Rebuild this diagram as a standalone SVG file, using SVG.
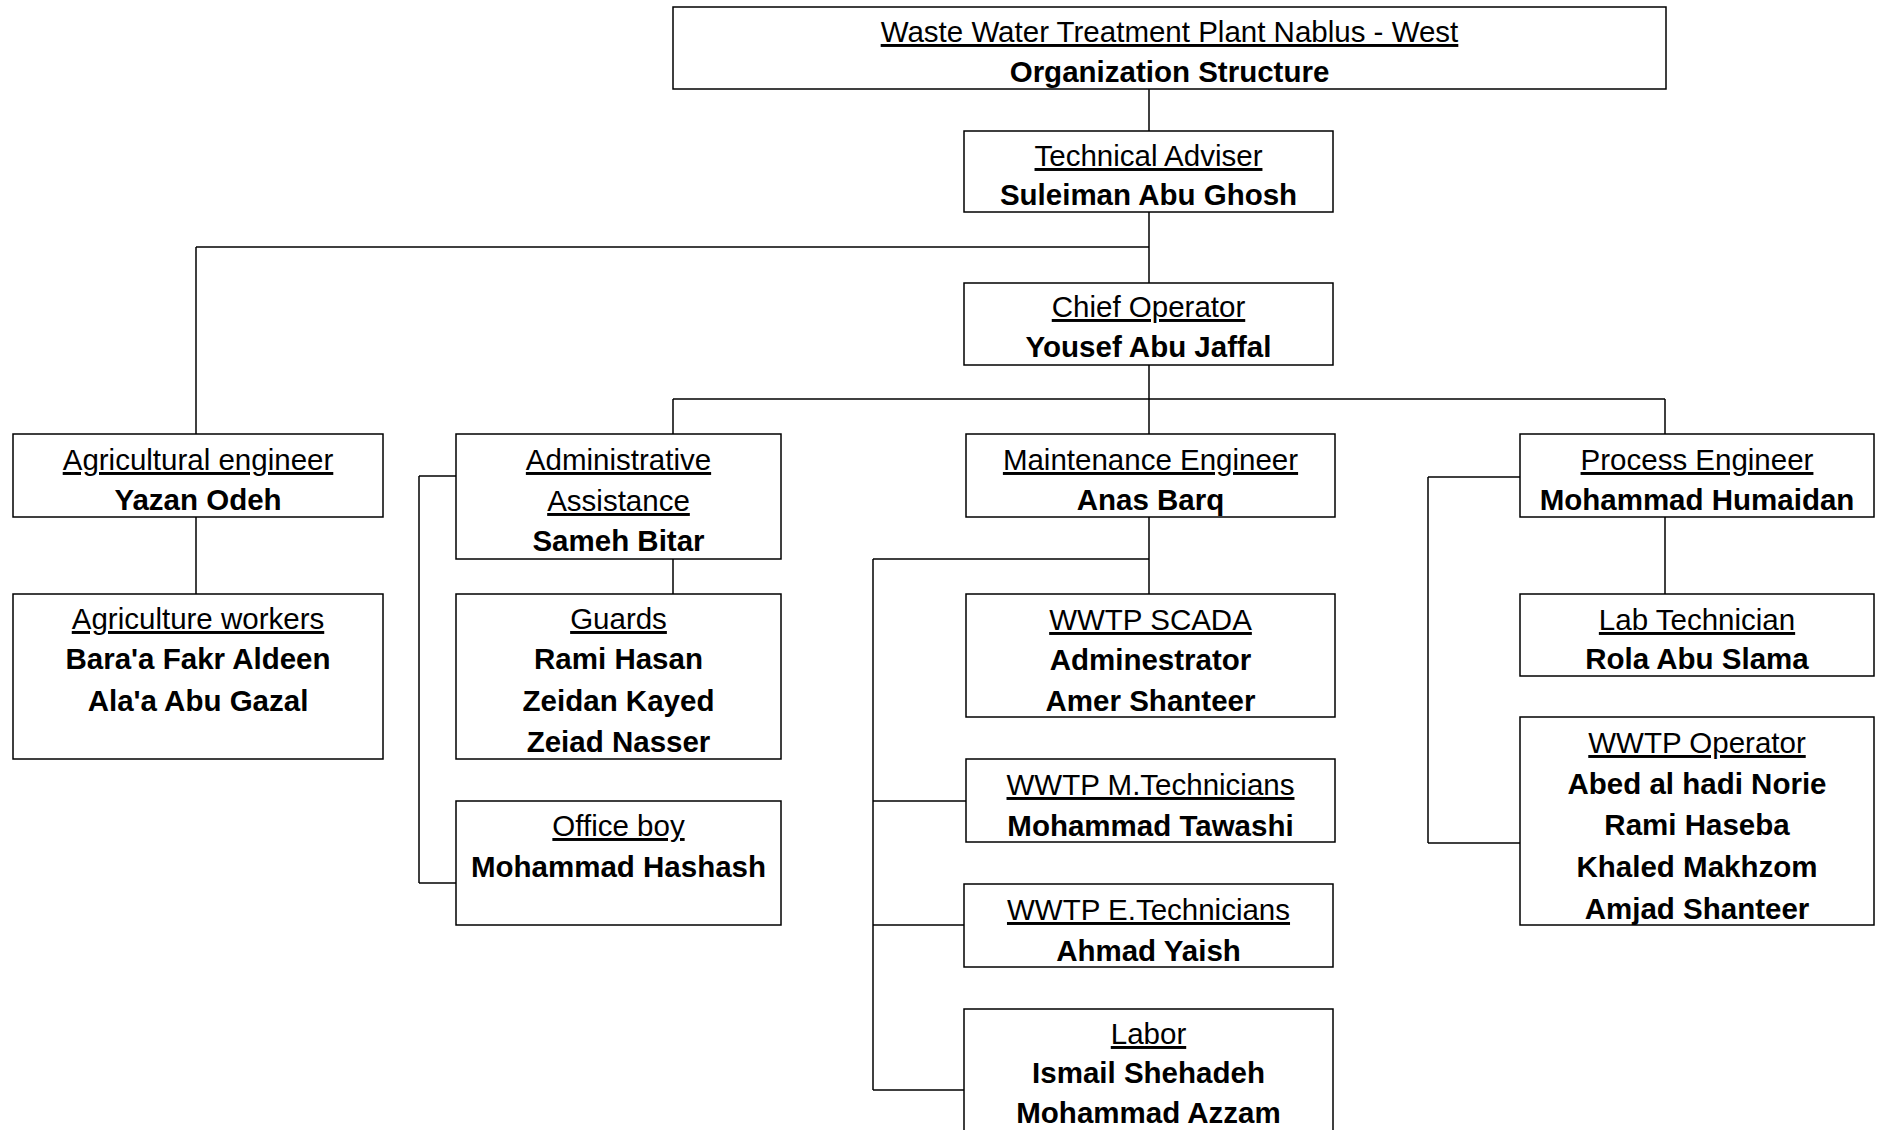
<svg xmlns="http://www.w3.org/2000/svg" width="1883" height="1130" viewBox="0 0 1883 1130">
<style>
.box{fill:#fff;stroke:#000;stroke-width:1.5}
.con line{stroke:#000;stroke-width:1.5}
text{font-family:"Liberation Sans",Arial,Helvetica,sans-serif;font-size:29.5px;fill:#000;text-anchor:middle}
.t{text-decoration:underline}
.n{font-weight:bold}
</style>
<rect width="1883" height="1130" fill="#fff"/>
<g id="connectors" class="con">
<line x1="1149" y1="89" x2="1149" y2="131"/>
<line x1="1149" y1="212" x2="1149" y2="283"/>
<line x1="196" y1="247" x2="1149" y2="247"/>
<line x1="196" y1="247" x2="196" y2="434"/>
<line x1="196" y1="517" x2="196" y2="594"/>
<line x1="1149" y1="365" x2="1149" y2="399"/>
<line x1="673" y1="399" x2="1665" y2="399"/>
<line x1="673" y1="399" x2="673" y2="434"/>
<line x1="1149" y1="399" x2="1149" y2="434"/>
<line x1="1665" y1="399" x2="1665" y2="434"/>
<line x1="673" y1="559" x2="673" y2="594"/>
<line x1="419" y1="476" x2="456" y2="476"/>
<line x1="419" y1="476" x2="419" y2="883"/>
<line x1="419" y1="883" x2="456" y2="883"/>
<line x1="1149" y1="517" x2="1149" y2="594"/>
<line x1="873" y1="559" x2="1149" y2="559"/>
<line x1="873" y1="559" x2="873" y2="1090"/>
<line x1="873" y1="801" x2="966" y2="801"/>
<line x1="873" y1="925" x2="964" y2="925"/>
<line x1="873" y1="1090" x2="964" y2="1090"/>
<line x1="1665" y1="517" x2="1665" y2="594"/>
<line x1="1428" y1="477" x2="1520" y2="477"/>
<line x1="1428" y1="477" x2="1428" y2="843"/>
<line x1="1428" y1="843" x2="1520" y2="843"/>
</g>
<g id="title"><rect class="box" x="673" y="7" width="993" height="82"/>
<text x="1169.5" y="42" class="t">Waste Water Treatment Plant Nablus - West</text>
<text x="1169.5" y="82" class="n">Organization Structure</text></g>
<g id="tech"><rect class="box" x="964" y="131" width="369" height="81"/>
<text x="1148.5" y="166" class="t">Technical Adviser</text>
<text x="1148.5" y="205" class="n">Suleiman Abu Ghosh</text></g>
<g id="chief"><rect class="box" x="964" y="283" width="369" height="82"/>
<text x="1148.5" y="317" class="t">Chief Operator</text>
<text x="1148.5" y="357" class="n">Yousef Abu Jaffal</text></g>
<g id="agri-eng"><rect class="box" x="13" y="434" width="370" height="83"/>
<text x="198" y="470" class="t">Agricultural engineer</text>
<text x="198" y="510" class="n">Yazan Odeh</text></g>
<g id="admin"><rect class="box" x="456" y="434" width="325" height="125"/>
<text x="618.5" y="470" class="t">Administrative</text>
<text x="618.5" y="511" class="t">Assistance</text>
<text x="618.5" y="551" class="n">Sameh Bitar</text></g>
<g id="maint"><rect class="box" x="966" y="434" width="369" height="83"/>
<text x="1150.5" y="470" class="t">Maintenance Engineer</text>
<text x="1150.5" y="510" class="n">Anas Barq</text></g>
<g id="process"><rect class="box" x="1520" y="434" width="354" height="83"/>
<text x="1697" y="470" class="t">Process Engineer</text>
<text x="1697" y="510" class="n">Mohammad Humaidan</text></g>
<g id="agri-workers"><rect class="box" x="13" y="594" width="370" height="165"/>
<text x="198" y="629" class="t">Agriculture workers</text>
<text x="198" y="669" class="n">Bara'a Fakr Aldeen</text>
<text x="198" y="711" class="n">Ala'a Abu Gazal</text></g>
<g id="guards"><rect class="box" x="456" y="594" width="325" height="165"/>
<text x="618.5" y="629" class="t">Guards</text>
<text x="618.5" y="669" class="n">Rami Hasan</text>
<text x="618.5" y="711" class="n">Zeidan Kayed</text>
<text x="618.5" y="752" class="n">Zeiad Nasser</text></g>
<g id="office-boy"><rect class="box" x="456" y="801" width="325" height="124"/>
<text x="618.5" y="836" class="t">Office boy</text>
<text x="618.5" y="877" class="n">Mohammad Hashash</text></g>
<g id="scada"><rect class="box" x="966" y="594" width="369" height="123"/>
<text x="1150.5" y="630" class="t">WWTP SCADA</text>
<text x="1150.5" y="670" class="n">Adminestrator</text>
<text x="1150.5" y="711" class="n">Amer Shanteer</text></g>
<g id="m-tech"><rect class="box" x="966" y="759" width="369" height="83"/>
<text x="1150.5" y="795" class="t">WWTP M.Technicians</text>
<text x="1150.5" y="836" class="n">Mohammad Tawashi</text></g>
<g id="e-tech"><rect class="box" x="964" y="884" width="369" height="83"/>
<text x="1148.5" y="920" class="t">WWTP E.Technicians</text>
<text x="1148.5" y="961" class="n">Ahmad Yaish</text></g>
<g id="labor"><rect class="box" x="964" y="1009" width="369" height="140"/>
<text x="1148.5" y="1044" class="t">Labor</text>
<text x="1148.5" y="1083" class="n">Ismail Shehadeh</text>
<text x="1148.5" y="1123" class="n">Mohammad Azzam</text></g>
<g id="lab"><rect class="box" x="1520" y="594" width="354" height="82"/>
<text x="1697" y="630" class="t">Lab Technician</text>
<text x="1697" y="669" class="n">Rola Abu Slama</text></g>
<g id="operator"><rect class="box" x="1520" y="717" width="354" height="208"/>
<text x="1697" y="753" class="t">WWTP Operator</text>
<text x="1697" y="794" class="n">Abed al hadi Norie</text>
<text x="1697" y="835" class="n">Rami Haseba</text>
<text x="1697" y="877" class="n">Khaled Makhzom</text>
<text x="1697" y="919" class="n">Amjad Shanteer</text></g>
</svg>
